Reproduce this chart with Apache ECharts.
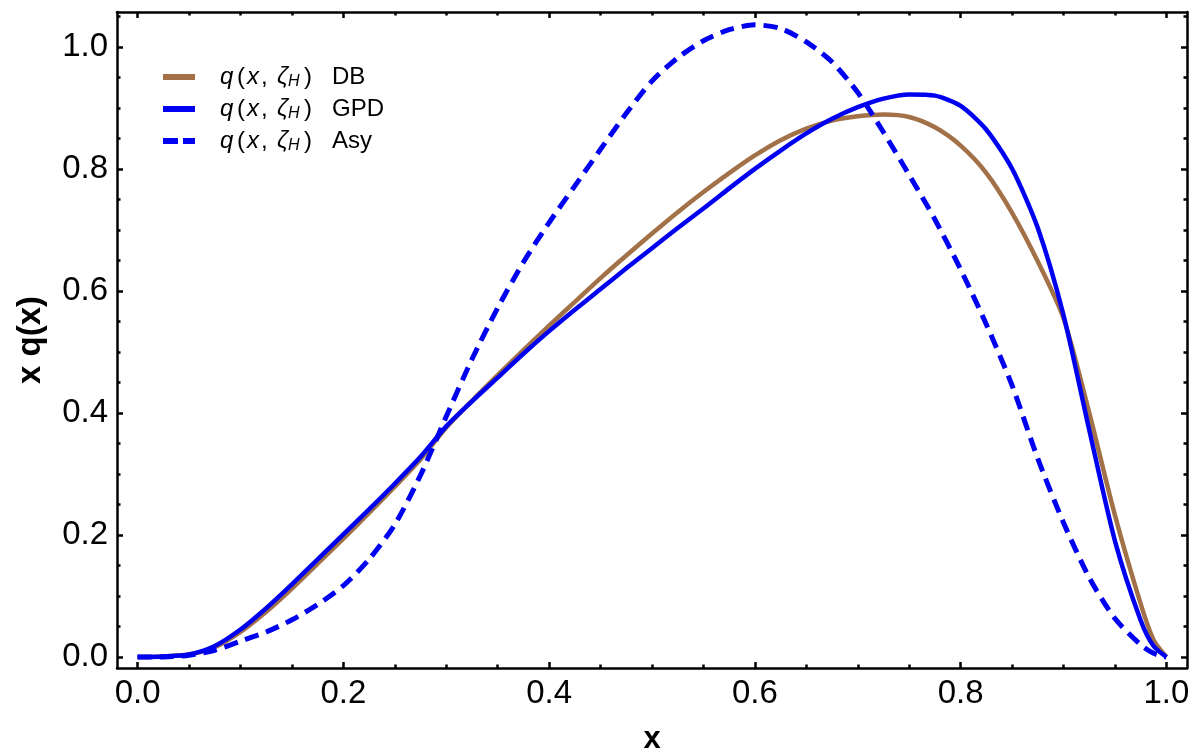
<!DOCTYPE html>
<html>
<head>
<meta charset="utf-8">
<script src="https://cdn.jsdelivr.net/npm/echarts@6/dist/echarts.min.js"></script>
<style>
html,body{margin:0;padding:0;background:#fff;}
#chart{width:1194px;height:755px;}
</style>
</head>
<body>
<div id="chart"></div>
<script>
const xs = [0, 0.025, 0.05, 0.075, 0.1, 0.125, 0.15, 0.175, 0.2, 0.225, 0.25, 0.275, 0.3, 0.325, 0.35, 0.375, 0.4, 0.425, 0.45, 0.475, 0.5, 0.525, 0.55, 0.575, 0.6, 0.625, 0.65, 0.675, 0.7, 0.725, 0.75, 0.775, 0.8, 0.825, 0.85, 0.875, 0.9, 0.925, 0.95, 0.975, 0.9875, 1.0];
const dbValues = [0, 0.001, 0.004, 0.016, 0.041, 0.074, 0.112, 0.153, 0.194, 0.236, 0.279, 0.324, 0.376, 0.420, 0.462, 0.503, 0.543, 0.582, 0.621, 0.658, 0.694, 0.729, 0.762, 0.793, 0.822, 0.847, 0.866, 0.879, 0.886, 0.889, 0.885, 0.868, 0.838, 0.793, 0.728, 0.648, 0.555, 0.400, 0.232, 0.087, 0.028, 0];
const gpdValues = [0, 0.001, 0.004, 0.018, 0.045, 0.080, 0.119, 0.160, 0.201, 0.242, 0.284, 0.328, 0.378, 0.419, 0.458, 0.497, 0.534, 0.569, 0.603, 0.637, 0.670, 0.703, 0.735, 0.768, 0.800, 0.830, 0.858, 0.882, 0.901, 0.915, 0.922, 0.920, 0.903, 0.864, 0.800, 0.703, 0.560, 0.372, 0.190, 0.060, 0.018, 0];
const asyValues = [0, 0.000, 0.003, 0.011, 0.026, 0.041, 0.061, 0.086, 0.117, 0.160, 0.217, 0.298, 0.394, 0.488, 0.572, 0.647, 0.712, 0.772, 0.832, 0.891, 0.944, 0.982, 1.010, 1.028, 1.036, 1.030, 1.008, 0.975, 0.925, 0.860, 0.790, 0.717, 0.635, 0.545, 0.445, 0.325, 0.220, 0.130, 0.063, 0.020, 0.006, 0];

const seriesNames = ['DB', 'GPD', 'Asy'];
const xMajorTicks = [0, 0.2, 0.4, 0.6, 0.8, 1.0];
const xMinorTicks = [0.05, 0.1, 0.15, 0.25, 0.3, 0.35, 0.45, 0.5, 0.55, 0.65, 0.7, 0.75, 0.85, 0.9, 0.95];
const yMajorTicks = [0, 0.2, 0.4, 0.6, 0.8, 1.0];
const yMinorTicks = [0.05, 0.1, 0.15, 0.25, 0.3, 0.35, 0.45, 0.5, 0.55, 0.65, 0.7, 0.75, 0.85, 0.9, 0.95, 1.05];
const xTitle = 'x';
const yTitle = 'x q(x)';

const FONT = "'Liberation Sans', Arial, Helvetica, sans-serif";
const BROWN = '#a27147';
const BLUE = '#0000f0';
const X_MIN = -0.02, X_MAX = 1.02, Y_MIN = -0.018, Y_MAX = 1.057;

function pairs(vals) { return xs.map((x, i) => [x, vals[i]]); }

const lineCol = '#000';
function baseAxis(pos, ticks, len, major, min, max) {
  return {
    type: 'value', position: pos, min: min, max: max,
    axisLine: { show: major, onZero: false, lineStyle: { color: lineCol, width: 2.5 } },
    axisTick: { show: true, inside: true, length: len, customValues: ticks, lineStyle: { color: lineCol, width: 2.5 } },
    axisLabel: { show: false },
    splitLine: { show: false }
  };
}
function xAx(pos, ticks, len, major) { return baseAxis(pos, ticks, len, major, X_MIN, X_MAX); }
function yAx(pos, ticks, len, major) { return baseAxis(pos, ticks, len, major, Y_MIN, Y_MAX); }

const xBottom = xAx('bottom', xMajorTicks, 6, true);
xBottom.axisLabel = { show: true, customValues: xMajorTicks, formatter: v => v.toFixed(1), color: '#000', fontFamily: FONT, fontSize: 33, margin: 9 };
xBottom.name = xTitle;
xBottom.nameLocation = 'middle';
xBottom.nameGap = 56;
xBottom.nameTextStyle = { color: '#000', fontFamily: FONT, fontSize: 31, fontWeight: 'bold' };

const yLeft = yAx('left', yMajorTicks, 6, true);
yLeft.axisLabel = { show: true, customValues: yMajorTicks, formatter: v => v.toFixed(1), color: '#000', fontFamily: FONT, fontSize: 33, margin: 9 };
yLeft.name = yTitle;
yLeft.nameLocation = 'middle';
yLeft.nameGap = 70;
yLeft.nameTextStyle = { color: '#000', fontFamily: FONT, fontSize: 33, fontWeight: 'bold' };

const LF = 24, LH = 26;
function tok(w, italic) {
  const o = { fontFamily: FONT, fontSize: LF, color: '#000', lineHeight: LH };
  if (w) o.width = w;
  if (italic) o.fontStyle = 'italic';
  return o;
}
const legendRich = {
  q: tok(17, true),
  p: tok(10, false),
  x: tok(14, true),
  c: tok(16, false),
  z: tok(11, true),
  s: { fontFamily: FONT, fontSize: 16, fontStyle: 'italic', color: '#000', lineHeight: LH, verticalAlign: 'bottom', width: 16 },
  r: tok(28, false),
  n: tok(0, false)
};

const solidIcon = 'path://M0,0H32V6H0Z';
const dashIcon = 'path://M0,0H15V6H0Z M20,0H32V6H20Z';

const option = {
  backgroundColor: '#fff',
  animation: false,
  grid: { left: 117, right: 7, top: 12, bottom: 87, containLabel: false, outerBoundsMode: 'none' },
  legend: {
    orient: 'vertical', left: 158, top: 60, itemWidth: 32, itemHeight: 6, itemGap: 7,
    data: [
      { name: 'DB', icon: solidIcon },
      { name: 'GPD', icon: solidIcon },
      { name: 'Asy', icon: dashIcon }
    ],
    formatter: name => '{q|q}{p|(}{x|x}{c|,}{z|ζ}{s|H}{r|)}{n|' + name + '}',
    textStyle: { padding: [0, 0, 0, 20], rich: legendRich }
  },
  xAxis: [
    xBottom,
    xAx('bottom', xMinorTicks, 3.5, false),
    xAx('top', xMajorTicks, 6, true),
    xAx('top', xMinorTicks, 3.5, false)
  ],
  yAxis: [
    yLeft,
    yAx('left', yMinorTicks, 3.5, false),
    yAx('right', yMajorTicks, 6, true),
    yAx('right', yMinorTicks, 3.5, false)
  ],
  series: [
    { name: seriesNames[0], type: 'line', data: pairs(dbValues), showSymbol: false, symbol: 'none', smooth: 0.25,
      color: BROWN, itemStyle: { color: BROWN }, lineStyle: { color: BROWN, width: 4.5 } },
    { name: seriesNames[1], type: 'line', data: pairs(gpdValues), showSymbol: false, symbol: 'none', smooth: 0.25,
      color: BLUE, itemStyle: { color: BLUE }, lineStyle: { color: BLUE, width: 4.5 } },
    { name: seriesNames[2], type: 'line', data: pairs(asyValues), showSymbol: false, symbol: 'none', smooth: 0.25,
      color: BLUE, itemStyle: { color: BLUE }, lineStyle: { color: BLUE, width: 5, type: [14, 8] } }
  ]
};

const chart = echarts.init(document.getElementById('chart'), null, { renderer: 'canvas' });
chart.setOption(option);
</script>
</body>
</html>
